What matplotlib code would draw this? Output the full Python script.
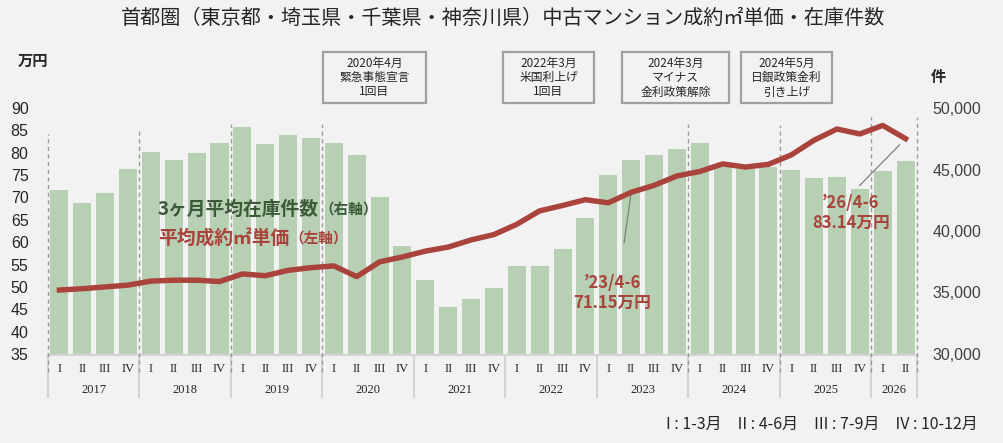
import matplotlib.pyplot as plt
from matplotlib.patches import Rectangle
from matplotlib.ticker import FuncFormatter

plt.rcParams["font.family"] = ["Noto Sans CJK JP", "DejaVu Sans"]

W, H = 1004, 443
BG = "#f2f2f2"
BAR = "#b7cfb3"
RED = "#a9433b"
GREEN_TXT = "#3b5a37"
GREY = "#a0a0a0"

years = ["2017", "2018", "2019", "2020", "2021", "2022", "2023", "2024", "2025", "2026"]
quarters = ["I", "II", "III", "IV"]
quarters_per_year = [4, 4, 4, 4, 4, 4, 4, 4, 4, 2]

# 3ヶ月平均在庫件数 (right axis)
stock = [43300, 42270, 43060, 45050,
         46410, 45760, 46330, 47170,
         48450, 47060, 47800, 47580,
         47140, 46160, 42730, 38820,
         36040, 33840, 34490, 35390,
         37180, 37180, 38570, 41020,
         44530, 45760, 46160, 46650,
         47140, 45180, 45020, 45240,
         44940, 44290, 44370, 43390,
         44860, 45670]

# 平均成約㎡単価 (left axis, 万円)
price = [49.3, 49.6, 50.0, 50.4,
         51.3, 51.5, 51.5, 51.2,
         52.9, 52.5, 53.7, 54.3,
         54.7, 52.3, 55.6, 56.7,
         58.0, 58.9, 60.5, 61.7,
         64.0, 67.0, 68.2, 69.5,
         68.8, 71.15, 72.7, 74.8,
         75.8, 77.5, 76.8, 77.4,
         79.5, 82.8, 85.3, 84.2,
         86.1, 83.14]

events = ["2020年4月\n緊急事態宣言\n1回目",
          "2022年3月\n米国利上げ\n1回目",
          "2024年3月\nマイナス\n金利政策解除",
          "2024年5月\n日銀政策金利\n引き上げ"]
event_boxes = [(323, 103), (503, 91), (622, 107), (741, 91)]  # left px, width px

callouts = [(25, "’23/4-6\n71.15万円"), (37, "’26/4-6\n83.14万円")]

fig = plt.figure(figsize=(W / 100, H / 100), dpi=100, facecolor=BG)
ax = fig.add_axes([48 / W, 89 / H, 869 / W, 246 / H])
ax2 = ax.twinx()

x = list(range(len(stock)))
ax2.bar(x, stock, width=0.79, color=BAR, zorder=2)
ax.plot(x, price, color=RED, lw=3.9, solid_joinstyle="round", zorder=5)

ax.set_zorder(ax2.get_zorder() + 1)
ax.patch.set_visible(False)
ax2.set_facecolor(BG)

ax.set_xlim(-0.5, len(stock) - 0.5)
ax.set_ylim(35, 90)
ax.set_yticks(range(35, 91, 5))
ax2.set_ylim(30000, 50000)
ax2.set_yticks(range(30000, 50001, 5000))
ax2.yaxis.set_major_formatter(FuncFormatter(lambda v, p: f"{int(v):,}"))
ax.set_xticks([])
for a in (ax, ax2):
    for s in a.spines.values():
        s.set_visible(False)
ax.tick_params(axis="y", length=0, pad=14, labelsize=11.5, labelcolor="#262626")
ax2.tick_params(axis="y", length=0, pad=11, labelsize=11.5, labelcolor="#404040")
for lab in ax.get_yticklabels() + ax2.get_yticklabels():
    lab.set_fontfamily("Liberation Sans")

# category axis: quarters and years
xt = ax.get_xaxis_transform()
ax.plot([-0.5, len(stock) - 0.5], [-0.004, -0.004], transform=xt,
        color="#d4d4d4", lw=1.5, clip_on=False)
start = 0
bounds = [-0.5]
for yr, nq in zip(years, quarters_per_year):
    for q in range(nq):
        ax.text(start + q, -0.061, quarters[q], transform=xt, ha="center",
                va="center", fontsize=9, family="Liberation Serif", color="#262626")
    ax.text(start + (nq - 1) / 2, -0.148, yr, transform=xt, ha="center",
            va="center", fontsize=9, family="Liberation Serif", color="#262626")
    start += nq
    bounds.append(start - 0.5)
for b in bounds:
    ax.plot([b, b], [-0.004, -0.175], transform=xt, color="#d4d4d4",
            lw=1.5, clip_on=False)

# dashed year markers
dash_pos = [-0.5, 3.5, 7.5, 11.5, 27.5, 31.5, 35.5, 37.5]
dash_top = [84.2, 85.3, 86.4, 86.4, 86.4, 86.2, 88.0, 88.0]
for p, t in zip(dash_pos, dash_top):
    ax.plot([p, p], [31.0, t], color="#9a9a9a", lw=1.0, ls=(0, (3, 2.5)),
            clip_on=False, zorder=3)

# legend text
t1 = fig.text(158 / W, 1 - 209 / H, "3ヶ月平均在庫件数", fontsize=13.5,
              fontweight="bold", color=GREEN_TXT, va="center", ha="left")
ax.annotate("（右軸）", xy=(1, 0.5), xycoords=t1, va="center", ha="left",
            fontsize=10.5, fontweight="bold", color=GREEN_TXT)
t2 = fig.text(158 / W, 1 - 238 / H, "平均成約㎡単価", fontsize=13.5,
              fontweight="bold", color=RED, va="center", ha="left")
ax.annotate("（左軸）", xy=(1, 0.5), xycoords=t2, va="center", ha="left",
            fontsize=10.5, fontweight="bold", color=RED)

# callouts
ax.annotate(callouts[0][1], xy=(callouts[0][0], price[callouts[0][0]]),
            xytext=(24.16, 48.6), textcoords="data", ha="center", va="center",
            fontsize=12, fontweight="bold", color=RED, linespacing=1.1,
            arrowprops=dict(arrowstyle="-", color="#808080", lw=0.9,
                            relpos=(0.6, 1.0), shrinkA=21, shrinkB=2))
ax.annotate(callouts[1][1], xy=(callouts[1][0], price[callouts[1][0]]),
            xytext=(34.61, 66.5), textcoords="data", ha="center", va="center",
            fontsize=12, fontweight="bold", color=RED, linespacing=1.1,
            arrowprops=dict(arrowstyle="-", color="#808080", lw=0.9,
                            relpos=(0.5, 1.0), shrinkA=6, shrinkB=6))

# event boxes
for txt, (x0, w) in zip(events, event_boxes):
    fig.add_artist(Rectangle((x0 / W, 1 - 103 / H), w / W, 51 / H,
                             transform=fig.transFigure, facecolor=BG,
                             edgecolor=GREY, lw=1.6))
    fig.text((x0 + w / 2) / W, 1 - 77.5 / H, txt, ha="center", va="center",
             fontsize=8.5, color="#262626", linespacing=1.15)

# titles and units
fig.text(503 / W, 1 - 18 / H,
         "首都圏（東京都・埼玉県・千葉県・神奈川県）中古マンション成約㎡単価・在庫件数",
         ha="center", va="center", fontsize=14.5, color="#262626")
fig.text(33 / W, 1 - 61 / H, "万円", ha="center", va="center", fontsize=11,
         fontweight="bold", color="#262626")
fig.text(938 / W, 1 - 77 / H, "件", ha="center", va="center", fontsize=11,
         fontweight="bold", color="#262626")
fig.text(978 / W, 1 - 424 / H, "I : 1-3月　II : 4-6月　III : 7-9月　IV : 10-12月",
         ha="right", va="center", fontsize=11.5, color="#262626")

fig.savefig("out.png", dpi=100, facecolor=BG)
